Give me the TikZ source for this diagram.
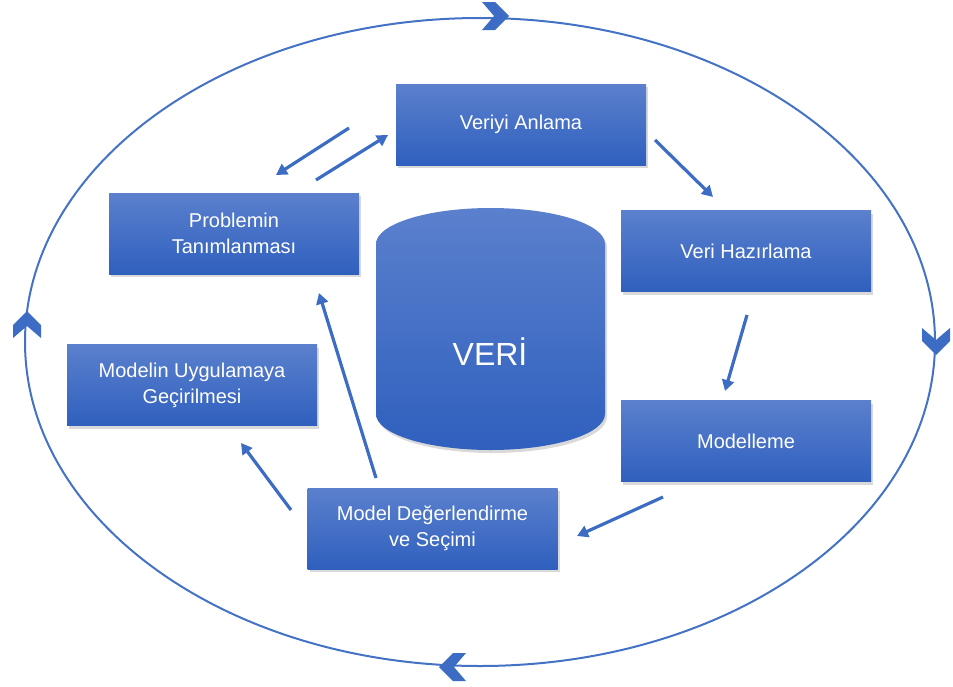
\documentclass[tikz,border=0pt]{standalone}
\usepackage{fontspec}
\setmainfont{Liberation Sans}
\usetikzlibrary{arrows.meta,shadows}
\definecolor{cycleblue}{HTML}{4472C4}
\definecolor{flowblue}{HTML}{3D6CC4}
\definecolor{boxtop}{HTML}{5B80CD}
\definecolor{boxbot}{HTML}{2F60BE}
\begin{document}
\begin{tikzpicture}[x=1pt,y=-1pt,
  stepbox/.style={rectangle, minimum width=250pt, minimum height=81pt,
    top color=boxtop, bottom color=boxbot, draw=none, text=white,
    font=\fontsize{20}{26}\selectfont, align=center,
    drop shadow={shadow xshift=2pt, shadow yshift=-3pt, opacity=0.3}},
  flow/.style={draw=flowblue, line width=3.2pt, -{Triangle[length=11pt,width=12pt]}},
  chev/.pic={\fill[flowblue] (-13pt,-14pt) -- (0pt,-14pt) -- (14pt,0pt) -- (0pt,14pt)
      -- (-13pt,14pt) -- (-1pt,0pt) -- cycle;}]
\useasboundingbox (0,0) rectangle (953,686);

% outer cycle
\coordinate (ecenter) at (480,342);
\draw[cycleblue, line width=2pt] (ecenter) ellipse [x radius=455, y radius=324];
\pic at (495,16) {chev};
\pic[rotate=-90] at (936,341) {chev};
\pic[rotate=180] at (453,667) {chev};
\pic[rotate=90] at (27,325) {chev};

% data store
\shade[top color=boxtop, bottom color=boxbot, drop shadow={shadow xshift=2pt, shadow yshift=-3pt, opacity=0.3}]
  (376,244) arc[start angle=180, end angle=360, x radius=114.5, y radius=36]
  -- (605,414) arc[start angle=0, end angle=180, x radius=114.5, y radius=36] -- cycle;
\node[text=white, font=\fontsize{32}{38}\selectfont] (veri) at (490,352) {VERİ};

% process steps
\node[stepbox] (anlama)  at (521,124.5) {\raisebox{-2pt}{Veriyi Anlama}};
\node[stepbox] (problem) at (234,233.5) {Problemin\\Tanımlanması};
\node[stepbox] (hazir)   at (746,251)   {\raisebox{-2pt}{Veri Hazırlama}};
\node[stepbox] (model)   at (746,441)   {\raisebox{-2pt}{Modelleme}};
\node[stepbox] (deger)   at (432.5,528.5) {Model Değerlendirme\\ve Seçimi};
\node[stepbox] (uygula)  at (192,385)   {Modelin Uygulamaya\\Geçirilmesi};

% arrow end points
\coordinate (a1s) at (349,128); \coordinate (a1e) at (276,175);
\coordinate (a2s) at (316,180); \coordinate (a2e) at (388,135);
\coordinate (a3s) at (655,140); \coordinate (a3e) at (713,197);
\coordinate (a4s) at (747,315); \coordinate (a4e) at (725,391);
\coordinate (a5s) at (663,497); \coordinate (a5e) at (577,536);
\coordinate (a6s) at (376,478); \coordinate (a6e) at (319,293);
\coordinate (a7s) at (291,510); \coordinate (a7e) at (241,443);

\draw[flow] (a1s) -- (a1e);
\draw[flow] (a2s) -- (a2e);
\draw[flow] (a3s) -- (a3e);
\draw[flow] (a4s) -- (a4e);
\draw[flow] (a5s) -- (a5e);
\draw[flow] (a6s) -- (a6e);
\draw[flow] (a7s) -- (a7e);
\end{tikzpicture}
\end{document}
